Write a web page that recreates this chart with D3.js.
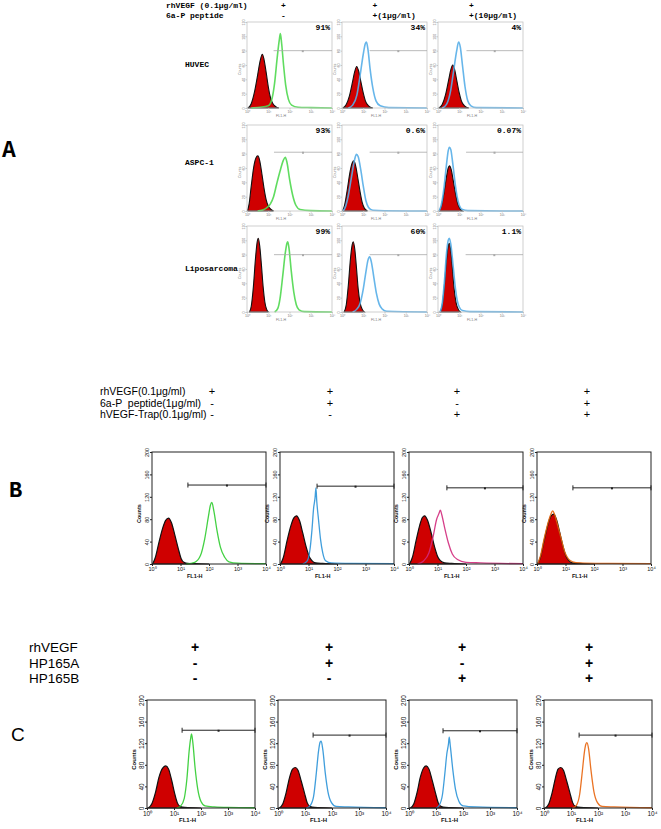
<!DOCTYPE html>
<html>
<head>
<meta charset="utf-8">
<script src="https://cdn.jsdelivr.net/npm/d3@7"></script>
<style>
  body { margin: 0; background: #fff; }
  text { white-space: pre; }
</style>
</head>
<body>
<svg id="chart" width="661" height="829"></svg>
<script>
// ---------- panel A : HUVEC / ASPC-1 / Liposarcoma (x = log10 FL1-H, y = counts)
const aHeaderLabels = ['rhVEGF (0.1\u03bcg/ml)', '6a-P peptide'];
const aHeaderMarks = [['+', '+', '+'], ['-', '+(1\u03bcg/ml)', '+(10\u03bcg/ml)']];
const aRowLabels = ['HUVEC', 'ASPC-1', 'Liposarcoma'];
const aPercents = [['91%', '34%', '4%'], ['93%', '0.6%', '0.07%'], ['99%', '60%', '1.1%']];
const aGates = [[80, 80, 80], [82, 82, 82], [80, 80, 80]];
const aGateStart = [[1.25, 1.3, 1.34], [1.27, 1.3, 1.32], [1.27, 1.3, 1.3]];
const aYTicks = [0, 20, 40, 60, 80, 100, 120];

const aControl = [
  [[[0.05,0],[0.2,6],[0.35,22],[0.5,46],[0.62,66],[0.72,75],[0.8,68],[0.9,50],[1.0,30],[1.1,15],[1.2,7],[1.35,2],[1.5,0]],
   [[0.05,0],[0.2,5],[0.35,17],[0.5,37],[0.6,51],[0.69,58],[0.78,52],[0.88,38],[1.0,21],[1.1,10],[1.25,3],[1.45,0]],
   [[0.05,0],[0.2,5],[0.35,18],[0.5,39],[0.6,53],[0.69,60],[0.78,54],[0.88,39],[1.0,21],[1.1,10],[1.25,3],[1.45,0]]],
  [[[0.02,0],[0.1,10],[0.2,35],[0.32,62],[0.42,74],[0.51,77],[0.6,70],[0.7,52],[0.8,32],[0.9,16],[1.0,7],[1.1,3],[1.25,0]],
   [[0.02,0],[0.12,8],[0.25,30],[0.38,55],[0.48,67],[0.56,70],[0.65,62],[0.75,45],[0.85,27],[0.95,12],[1.05,4],[1.2,0]],
   [[0.05,0],[0.15,6],[0.28,25],[0.4,48],[0.48,60],[0.54,63],[0.62,58],[0.72,42],[0.82,25],[0.92,11],[1.02,4],[1.15,0]]],
  [[[0.12,0],[0.2,8],[0.3,35],[0.4,75],[0.48,98],[0.53,103],[0.6,92],[0.68,65],[0.76,35],[0.84,14],[0.92,4],[1.0,0]],
   [[0.1,0],[0.2,10],[0.3,38],[0.4,75],[0.48,94],[0.53,98],[0.6,88],[0.68,62],[0.76,33],[0.85,13],[0.95,4],[1.05,0]],
   [[0.1,0],[0.2,10],[0.3,37],[0.4,73],[0.48,92],[0.53,96],[0.6,86],[0.68,60],[0.76,32],[0.85,13],[0.95,4],[1.05,0]]]
];
const aTreated = [
  [[[0.2,0],[0.6,1],[1.0,3],[1.15,10],[1.3,35],[1.42,70],[1.52,95],[1.57,104],[1.63,90],[1.72,60],[1.82,32],[1.95,12],[2.1,4],[2.4,1],[3,0.5],[4,0]],
   [[0.3,0],[0.5,4],[0.7,18],[0.85,45],[1.0,75],[1.1,90],[1.15,92],[1.22,82],[1.32,55],[1.45,28],[1.6,10],[1.8,3],[2.2,0.5],[4,0]],
   [[0.2,0],[0.4,5],[0.6,25],[0.75,55],[0.88,80],[0.97,92],[1.05,85],[1.15,60],[1.27,30],[1.4,10],[1.55,3],[1.8,0.5],[4,0]]],
  [[[0.5,0],[0.8,2],[0.95,5],[1.1,10],[1.25,20],[1.4,38],[1.55,55],[1.7,70],[1.8,75],[1.88,68],[2.0,45],[2.15,22],[2.3,8],[2.5,2],[3,0.5],[4,0]],
   [[0.05,0],[0.15,5],[0.3,22],[0.45,48],[0.58,70],[0.68,79],[0.76,76],[0.88,58],[1.0,35],[1.12,15],[1.25,5],[1.45,1],[2,0.3],[4,0]],
   [[0.05,0],[0.15,8],[0.28,32],[0.4,65],[0.48,84],[0.54,89],[0.6,86],[0.7,65],[0.8,40],[0.9,20],[1.0,8],[1.15,2],[1.4,0.5],[4,0]]],
  [[[1.3,0],[1.45,5],[1.55,18],[1.68,50],[1.8,82],[1.88,96],[1.92,98],[1.98,88],[2.08,58],[2.2,28],[2.32,10],[2.45,3],[2.7,0.5],[4,0]],
   [[0.5,0],[0.7,4],[0.85,12],[1.0,32],[1.12,55],[1.22,72],[1.3,77],[1.38,70],[1.5,48],[1.62,26],[1.75,11],[1.9,4],[2.1,1],[4,0]],
   [[0.1,0],[0.2,12],[0.3,42],[0.4,82],[0.48,100],[0.53,103],[0.6,95],[0.7,68],[0.8,38],[0.9,17],[1.0,7],[1.15,2],[1.5,0.5],[4,0]]]
];

// ---------- panel B
const bHeaderLabels = ['rhVEGF(0.1\u03bcg/ml)', '6a-P  peptide(1\u03bcg/ml)', 'hVEGF-Trap(0.1\u03bcg/ml)'];
const bHeaderMarks = [['+', '+', '+', '+'], ['-', '+', '-', '+'], ['-', '-', '+', '+']];
const bGates = [141, 139, 136, 136];
const bGateStart = [1.26, 1.3, 1.33, 1.26];
const bYTicks = [0, 40, 80, 120, 160, 200];
const bColors = ['#2fcc2f', '#2b93d8', '#d12a7c', '#e8640c'];
const bControl = [
  [[0.02,0],[0.12,12],[0.25,40],[0.38,65],[0.48,78],[0.58,82],[0.68,74],[0.8,52],[0.92,28],[1.02,10],[1.12,3],[1.25,1],[1.5,0.5],[2,0]],
  [[0.02,0],[0.12,12],[0.25,42],[0.38,68],[0.48,82],[0.58,86],[0.68,78],[0.8,55],[0.92,30],[1.02,14],[1.12,6],[1.25,2],[1.5,1],[2,0]],
  [[0.02,0],[0.12,12],[0.25,42],[0.38,70],[0.47,83],[0.55,86],[0.65,78],[0.78,55],[0.9,30],[1.0,14],[1.1,6],[1.25,2],[1.5,1],[2,0]],
  [[0.02,0],[0.12,12],[0.25,42],[0.38,70],[0.48,85],[0.58,89],[0.68,80],[0.8,56],[0.92,30],[1.02,14],[1.12,6],[1.25,2],[1.5,1],[2,0]]
];
const bTreated = [
  [[1.2,0],[1.5,3],[1.7,15],[1.85,45],[1.98,85],[2.05,105],[2.1,110],[2.17,95],[2.28,60],[2.4,30],[2.55,12],[2.7,4],[3,1.5],[4,0.5]],
  [[0.8,0],[0.95,5],[1.05,25],[1.12,60],[1.18,100],[1.23,118],[1.26,136],[1.29,112],[1.35,80],[1.42,45],[1.5,20],[1.6,6],[1.8,2],[2.5,1],[4,0.5]],
  [[0.3,0],[0.5,5],[0.7,20],[0.85,50],[0.97,80],[1.05,90],[1.1,96],[1.15,88],[1.25,65],[1.38,38],[1.52,18],[1.7,8],[2.0,3],[2.5,2],[4,0.5]],
  [[0.02,0],[0.12,14],[0.25,45],[0.38,72],[0.48,88],[0.55,95],[0.62,88],[0.72,70],[0.85,45],[0.97,22],[1.1,9],[1.25,4],[1.5,2],[2.5,1],[4,0.5]]
];

// ---------- panel C
const cHeaderLabels = ['rhVEGF', 'HP165A', 'HP165B'];
const cHeaderMarks = [['+', '+', '+', '+'], ['-', '+', '-', '+'], ['-', '-', '+', '+']];
const cGates = [144, 135, 143, 135];
const cGateStart = [1.3, 1.3, 1.26, 1.3];
const cYTicks = [0, 40, 80, 120, 160, 200];
const cColors = ['#2fcc2f', '#2b93d8', '#2b93d8', '#e8640c'];
const cControl = [
  [[0.05,0],[0.18,8],[0.32,30],[0.45,58],[0.58,74],[0.7,78],[0.8,72],[0.92,50],[1.02,28],[1.12,10],[1.22,3],[1.4,1],[2,0]],
  [[0.05,0],[0.18,8],[0.3,28],[0.42,55],[0.54,72],[0.64,75],[0.74,70],[0.86,50],[0.98,28],[1.08,10],[1.18,3],[1.35,1],[2,0]],
  [[0.05,0],[0.18,8],[0.3,29],[0.42,57],[0.54,74],[0.64,78],[0.74,72],[0.86,51],[0.98,28],[1.08,10],[1.18,3],[1.35,1],[2,0]],
  [[0.05,0],[0.18,8],[0.3,28],[0.42,55],[0.52,72],[0.62,75],[0.72,70],[0.84,50],[0.96,28],[1.06,10],[1.16,3],[1.35,1],[2,0]]
];
const cTreated = [
  [[1.1,0],[1.25,4],[1.38,18],[1.48,55],[1.56,105],[1.62,130],[1.65,137],[1.7,120],[1.78,75],[1.88,35],[2.0,12],[2.15,4],[2.5,2],[3,1],[4,0.5]],
  [[1.05,0],[1.2,5],[1.32,22],[1.42,65],[1.5,105],[1.56,122],[1.6,124],[1.66,108],[1.75,65],[1.85,30],[1.98,10],[2.15,3],[2.6,2],[4,0.5]],
  [[1.0,0],[1.12,5],[1.24,25],[1.33,65],[1.4,100],[1.46,118],[1.49,131],[1.53,115],[1.62,72],[1.72,35],[1.85,12],[2.0,4],[2.5,2],[4,0.5]],
  [[1.05,0],[1.2,5],[1.32,25],[1.42,68],[1.5,105],[1.55,118],[1.59,121],[1.65,110],[1.74,70],[1.85,30],[1.98,10],[2.15,3],[2.6,2],[4,0.5]]
];

const sup = ['\u2070', '\u00b9', '\u00b2', '\u00b3', '\u2074'];
const svg = d3.select('#chart');

function histogram(box, opt, control, treated, color, gate, gateStart) {
  const x = d3.scaleLinear().domain([0, 4]).range([box.x, box.x + box.w]);
  const y = d3.scaleLinear().domain([0, opt.yMax]).range([box.y + box.h, box.y]);
  const g = svg.append('g');

  const area = d3.area().x(d => x(d[0])).y0(y(0)).y1(d => y(d[1])).curve(d3.curveMonotoneX);
  const line = d3.line().x(d => x(d[0])).y(d => y(d[1])).curve(d3.curveMonotoneX);

  g.append('path').datum(control).attr('d', area)
    .attr('fill', '#cf0000').attr('stroke', '#111').attr('stroke-width', opt.outline);
  g.append('path').datum(treated).attr('d', line)
    .attr('fill', 'none').attr('stroke', color).attr('stroke-width', opt.lw)
    .attr('stroke-opacity', 0.9);

  g.append('rect')
    .attr('x', box.x).attr('y', box.y).attr('width', box.w).attr('height', box.h)
    .attr('fill', 'none').attr('stroke', opt.frame).attr('stroke-width', opt.frameW);

  const xAxis = d3.axisBottom(x).tickValues([0, 1, 2, 3, 4]).tickSize(opt.tick)
    .tickFormat(d => '10' + sup[d]);
  const xg = g.append('g').attr('transform', `translate(0,${box.y + box.h})`).call(xAxis);
  xg.select('.domain').remove();
  xg.selectAll('line').attr('stroke', opt.frame);
  xg.selectAll('text').attr('fill', opt.text).style('font-size', opt.tickFont + 'px')
    .style('font-family', 'Liberation Sans, Arial, sans-serif').attr('dy', '0.7em').attr('y', opt.tick + 1);

  const yAxis = d3.axisLeft(y).tickValues(opt.yTicks).tickSize(opt.tick);
  const yg = g.append('g').attr('transform', `translate(${box.x},0)`).call(yAxis);
  yg.select('.domain').remove();
  yg.selectAll('line').attr('stroke', opt.frame);
  yg.selectAll('text').attr('fill', opt.text).style('font-size', opt.tickFont + 'px')
    .style('font-family', 'Liberation Sans, Arial, sans-serif')
    .attr('transform', 'rotate(-90)').attr('x', 0).attr('y', -(opt.tick + 1)).attr('dy', 0)
    .attr('text-anchor', 'middle');

  g.append('text')
    .attr('transform', `translate(${box.x - opt.countsOff},${box.y + box.h * 0.55}) rotate(-90)`)
    .attr('text-anchor', 'middle').attr('fill', opt.text)
    .style('font-size', opt.labelFont + 'px').style('font-weight', opt.labelWeight)
    .style('font-family', 'Liberation Sans, Arial, sans-serif')
    .text('Counts');
  g.append('text')
    .attr('x', x(opt.flPos)).attr('y', box.y + box.h + opt.flOff)
    .attr('text-anchor', 'middle').attr('fill', opt.text)
    .style('font-size', opt.labelFont + 'px').style('font-weight', opt.labelWeight)
    .style('font-family', 'Liberation Sans, Arial, sans-serif')
    .text('FL1-H');

  // gate marker
  const gy = y(gate), gx0 = x(gateStart), gx1 = x(4);
  g.append('line').attr('x1', gx0).attr('x2', gx1).attr('y1', gy).attr('y2', gy)
    .attr('stroke', opt.gateColor).attr('stroke-width', opt.gateW);
  if (opt.gateEnds) {
    [gx0, gx1].forEach(v => g.append('line').attr('x1', v).attr('x2', v)
      .attr('y1', gy - 2.5).attr('y2', gy + 2.5).attr('stroke', opt.gateColor).attr('stroke-width', 1));
  }
  g.append('rect').attr('x', (gx0 + gx1) / 2 - 1).attr('y', gy - 0.5).attr('width', 2).attr('height', 2)
    .attr('fill', opt.gateColor);
  return { x, y };
}

// ---------- draw panel A
const aOpt = {
  yMax: 120, yTicks: aYTicks, outline: 1.1, lw: 1.6, frame: '#c4c4c4', frameW: 0.8, text: '#777',
  tick: 1.5, tickFont: 3.6, labelFont: 3.6, labelWeight: 'normal', countsOff: 6, flPos: 1.6, flOff: 9,
  gateColor: '#aaaaaa', gateW: 0.8, gateEnds: false
};
const aLeft = [247, 342, 438], aTop = [22, 125, 226];
const mono = 'Liberation Mono, Courier New, monospace';

aHeaderLabels.forEach((t, i) => {
  svg.append('text').attr('x', 166).attr('y', 8 + i * 9.5).text(t)
    .style('font-family', mono).style('font-weight', 'bold').style('font-size', '8px');
  aHeaderMarks[i].forEach((m, j) => {
    svg.append('text').attr('x', aLeft[j] + 34 + j * 0.5 - (j ? 4 : 0)).attr('y', 8 + i * 9.5).text(m)
      .style('font-family', mono).style('font-weight', 'bold').style('font-size', '8px');
  });
});
aRowLabels.forEach((t, r) => {
  svg.append('text').attr('x', 185).attr('y', [67, 165, 271][r]).text(t)
    .style('font-family', mono).style('font-weight', 'bold').style('font-size', '8px');
  for (let c = 0; c < 3; c++) {
    const box = { x: aLeft[c], y: aTop[r], w: 85, h: 86 };
    const color = c === 0 ? '#4fd84f' : '#56aee8';
    histogram(box, aOpt, aControl[r][c], aTreated[r][c], color, aGates[r][c], aGateStart[r][c]);
    svg.append('text').attr('x', box.x + box.w - 2).attr('y', box.y + 7.5).attr('text-anchor', 'end')
      .text(aPercents[r][c])
      .style('font-family', mono).style('font-weight', 'bold').style('font-size', '8px');
  }
});
svg.append('text').attr('x', 2).attr('y', 157).text('A')
  .style('font-family', mono).style('font-weight', 'bold').style('font-size', '23px');

// ---------- draw panel B
const bcOpt = {
  yMax: 200, outline: 1.2, lw: 1.3, frame: '#222', frameW: 1, text: '#111',
  tick: 2, tickFont: 5.5, labelFont: 5.5, labelWeight: 'bold', countsOff: 11, flPos: 1.5, flOff: 14,
  gateColor: '#222', gateW: 1, gateEnds: true
};
const sans = 'Liberation Sans, Arial, sans-serif';
const bLeft = [152, 280, 409, 537], bMarkX = [212, 330, 457, 587];
bHeaderLabels.forEach((t, i) => {
  svg.append('text').attr('x', 100).attr('y', 395 + i * 11.7).text(t)
    .style('font-family', sans).style('font-size', '10.5px');
  bHeaderMarks[i].forEach((m, j) => {
    svg.append('text').attr('x', bMarkX[j]).attr('y', 395 + i * 11.7).attr('text-anchor', 'middle').text(m)
      .style('font-family', sans).style('font-size', '11px');
  });
});
bLeft.forEach((l, j) => {
  histogram({ x: l, y: 452, w: 114, h: 112 }, Object.assign({}, bcOpt, { yTicks: bYTicks }),
    bControl[j], bTreated[j], bColors[j], bGates[j], bGateStart[j]);
});
svg.append('text').attr('x', 9).attr('y', 497).text('B')
  .style('font-family', mono).style('font-weight', 'bold').style('font-size', '22px');

// ---------- draw panel C
const cLeft = [147, 278, 409, 544], cMarkX = [195, 329, 462, 589];
cHeaderLabels.forEach((t, i) => {
  svg.append('text').attr('x', 29).attr('y', 652 + i * 15.5).text(t)
    .style('font-family', sans).style('font-size', '13.5px');
  cHeaderMarks[i].forEach((m, j) => {
    svg.append('text').attr('x', cMarkX[j]).attr('y', 652 + i * 15.5).attr('text-anchor', 'middle').text(m)
      .style('font-family', sans).style('font-weight', 'bold').style('font-size', '14px');
  });
});
cLeft.forEach((l, j) => {
  histogram({ x: l, y: 700, w: 108, h: 108 }, Object.assign({}, bcOpt, { yTicks: cYTicks, tickFont: 6.5, labelFont: 6 }),
    cControl[j], cTreated[j], cColors[j], cGates[j], cGateStart[j]);
});
svg.append('text').attr('x', 11).attr('y', 741).text('C')
  .style('font-family', sans).style('font-size', '19px');
</script>
</body>
</html>
